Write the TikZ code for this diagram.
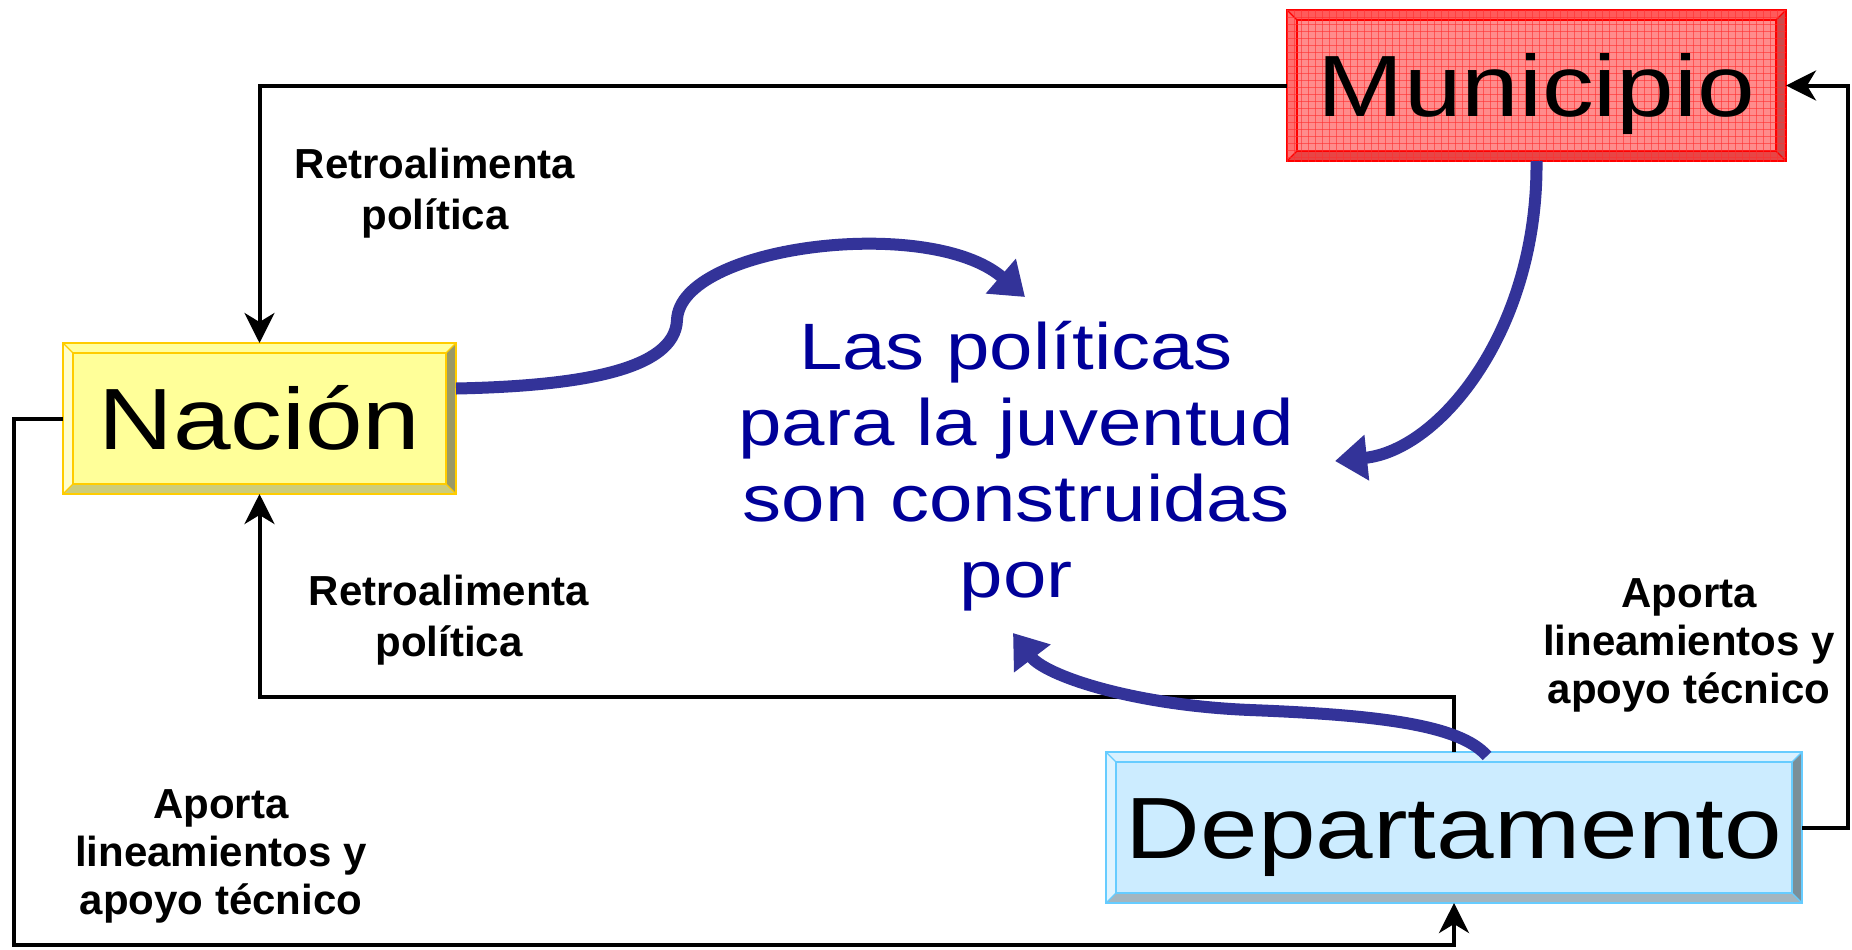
\documentclass[tikz,border=0pt]{standalone}
\usepackage{fontspec}
\setmainfont{Liberation Sans}
\newfontfamily\widefont[FakeStretch=1.19]{Liberation Sans}
\usetikzlibrary{arrows.meta,calc}
\pgfdeclarelayer{background}
\pgfsetlayers{background,main}
\definecolor{arrowblue}{HTML}{333399}
\definecolor{txtblue}{HTML}{000099}
\definecolor{munfill}{HTML}{FF8C8C}
\definecolor{muntop}{HTML}{FF5A5A}
\definecolor{munleft}{HTML}{FF7070}
\definecolor{munright}{HTML}{CC4B4B}
\definecolor{munbottom}{HTML}{E84545}
\definecolor{munborder}{HTML}{FF0000}
\definecolor{munGrid}{HTML}{FF3030}
\definecolor{nacfill}{HTML}{FFFF99}
\definecolor{nactop}{HTML}{FFFF9E}
\definecolor{nacleft}{HTML}{FFFFCC}
\definecolor{nacright}{HTML}{999966}
\definecolor{nacbottom}{HTML}{CCCC7A}
\definecolor{nacborder}{HTML}{FFCC00}
\definecolor{depfill}{HTML}{CCECFF}
\definecolor{deptop}{HTML}{D9F1FF}
\definecolor{depleft}{HTML}{E0F4FF}
\definecolor{depright}{HTML}{7A8F99}
\definecolor{depbottom}{HTML}{A3B5BF}
\definecolor{depborder}{HTML}{66CCFF}
\newcommand\bevelbox[7]{%
 \begin{pgfonlayer}{background}
 \fill[#2] (#1.north west) rectangle (#1.south east);
 \fill[#3] (#1.north west) -- (#1.north east) -- ([shift={(-10,10)}]#1.north east) -- ([shift={(10,10)}]#1.north west) -- cycle;
 \fill[#4] (#1.north west) -- ([shift={(10,10)}]#1.north west) -- ([shift={(10,-10)}]#1.south west) -- (#1.south west) -- cycle;
 \fill[#5] (#1.north east) -- (#1.south east) -- ([shift={(-10,-10)}]#1.south east) -- ([shift={(-10,10)}]#1.north east) -- cycle;
 \fill[#6] (#1.south west) -- ([shift={(10,-10)}]#1.south west) -- ([shift={(-10,-10)}]#1.south east) -- (#1.south east) -- cycle;
 \draw[#7, line width=0.6pt] ([shift={(10,10)}]#1.north west) rectangle ([shift={(-10,-10)}]#1.south east);
 \draw[#7, line width=0.6pt] (#1.north west) -- ++(10,10) (#1.north east) -- ++(-10,10) (#1.south west) -- ++(10,-10) (#1.south east) -- ++(-10,-10);
 \draw[#7, line width=1.2pt] (#1.north west) rectangle (#1.south east);
 \end{pgfonlayer}}
\begin{document}
\begin{tikzpicture}[x=0.5pt,y=-0.5pt,
  bigbox/.style={inner sep=0pt, outer sep=0pt, text=black,
    font=\widefont\fontsize{43.5pt}{50pt}\selectfont,
    text height=31.1pt, text depth=0pt, minimum height=75.5pt},
  lbl/.style={align=center, inner sep=0pt, anchor=base,
    font=\bfseries\fontsize{21pt}{24.5pt}\selectfont},
  conn/.style={draw=black, line width=2pt, -{Stealth[length=15pt,width=15pt,inset=4.5pt]}},
  bluearrow/.style={draw=arrowblue, line width=6pt, -{Triangle[length=16pt,width=22pt]}}]
\begin{pgfonlayer}{background}
\fill[white] (0,0) rectangle (1852,949);
\end{pgfonlayer}
\useasboundingbox (0,0) rectangle (1852,949);

\node[bigbox, minimum width=249.5pt] (mun) at (1536.5,85.5) {Municipio};
\node[bigbox, minimum width=196.5pt] (nac) at (259.5,418.5) {Nación};
\node[bigbox, minimum width=348pt] (dep) at (1454,827.5) {Departamento};

\bevelbox{mun}{munfill}{muntop}{munleft}{munright}{munbottom}{munborder}
\begin{pgfonlayer}{background}
\begin{scope}
\clip (mun.north west) rectangle (mun.south east);
\foreach \i in {0,...,72} \draw[munGrid, line width=0.35pt, opacity=0.6] (1287+\i*7,0) -- ++(0,175);
\foreach \i in {0,...,24} \draw[munGrid, line width=0.35pt, opacity=0.6] (1280,10+\i*7) -- ++(520,0);
\end{scope}
\end{pgfonlayer}
\bevelbox{nac}{nacfill}{nactop}{nacleft}{nacright}{nacbottom}{nacborder}
\bevelbox{dep}{depfill}{deptop}{depleft}{depright}{depbottom}{depborder}

\node[align=center, inner sep=0pt, anchor=base, text=txtblue,
  font=\widefont\fontsize{32.8pt}{38pt}\selectfont] (txt) at (1016,597)
  {Las políticas\\para la juventud\\son construidas\\por};

\node[lbl, font=\bfseries\fontsize{21pt}{25.5pt}\selectfont] (lab1) at (435,229) {Retroalimenta\\política};
\node[lbl, font=\bfseries\fontsize{21pt}{25.5pt}\selectfont] (lab2) at (449,656) {Retroalimenta\\política};
\node[lbl, font=\bfseries\fontsize{21pt}{24pt}\selectfont] (lab3) at (1689,703) {Aporta\\lineamientos y\\apoyo técnico};
\node[lbl, font=\bfseries\fontsize{21pt}{24pt}\selectfont] (lab4) at (221,914) {Aporta\\lineamientos y\\apoyo técnico};

\coordinate (c2) at (259.5,697);
\coordinate (c3) at (14,945);
\coordinate (c4) at (1848,85.5);
\draw[conn] (mun.west) -| (nac.north);
\draw[conn] (dep.north) |- (c2) -- (nac.south);
\draw[conn] (nac.west) -| (c3) -| (dep.south);
\draw[conn] (dep.east) -| (c4) -- (mun.east);

\coordinate (tipA) at (1025,297);
\coordinate (tipB) at (1335,461);
\coordinate (tipC) at (1013,633);
\draw[bluearrow] ([yshift=15pt]nac.east) .. controls (580,386) and (675,370) .. (677,320)
  .. controls (680,245) and (930,215) .. (tipA);
\draw[bluearrow] (mun.south) .. controls (1538,330) and (1440,450) .. (tipB);
\draw[bluearrow] ([xshift=16.5pt,yshift=-2pt]dep.north) .. controls (1460,725) and (1380,715) .. (1250,710)
  .. controls (1130,705) and (1045,675) .. (tipC);
\end{tikzpicture}
\end{document}
